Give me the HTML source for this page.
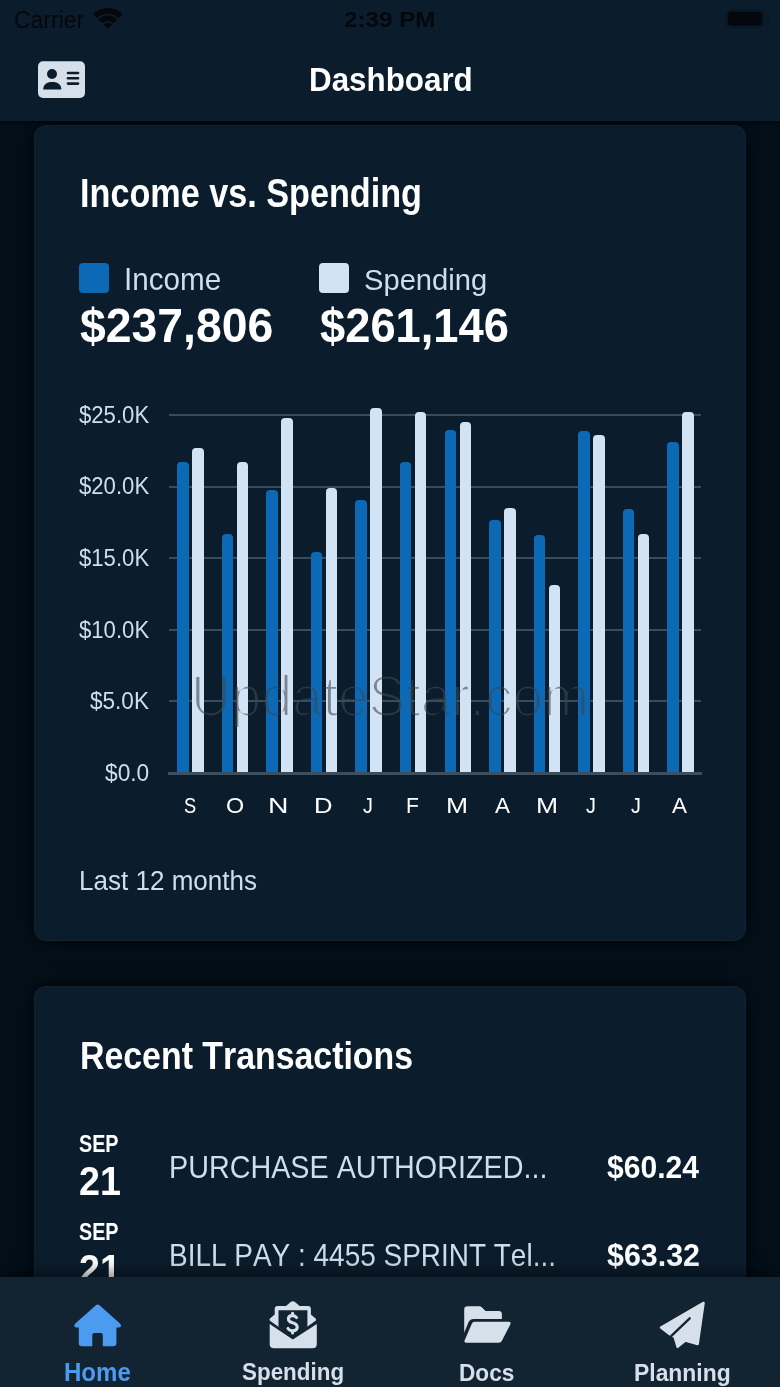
<!DOCTYPE html>
<html><head><meta charset="utf-8">
<style>
*{margin:0;padding:0;box-sizing:border-box}
html,body{width:780px;height:1387px;overflow:hidden;background:#03101a;font-family:"Liberation Sans",sans-serif;font-kerning:none}
.t{position:absolute;white-space:nowrap;line-height:1;transform-origin:0 0}
.abs{position:absolute}
#header{position:absolute;left:0;top:0;width:780px;height:121px;background:#0b1d2d;box-shadow:0 1px 4px rgba(0,0,0,.7)}
.card{position:absolute;left:34px;width:712px;background:#0b1d2d;border-radius:12px;box-shadow:0 0 20px rgba(0,0,0,.85);border:1px solid rgba(255,255,255,.025)}
.bar{position:absolute;width:11.5px;border-radius:4px 4px 0 0}
.grid{position:absolute;left:169px;width:532px;height:2px;background:#3a4b5a}
#tab{position:absolute;left:0;top:1277px;width:780px;height:110px;background:#122331;box-shadow:0 -3px 16px rgba(0,0,0,.6)}
</style></head><body>
<svg width="0" height="0" style="position:absolute"><filter id="thin" x="-5%" y="-20%" width="110%" height="140%"><feMorphology operator="erode" radius="0.7"/></filter></svg>
<div class="card" style="top:125px;height:816px"></div>
<div class="card" style="top:985.5px;height:420px"></div>
<div id="header"></div>
<div class="grid" style="top:413.8px"></div><div class="grid" style="top:485.5px"></div><div class="grid" style="top:557.1px"></div><div class="grid" style="top:628.8px"></div><div class="grid" style="top:700.4px"></div>
<div class="abs" style="left:168px;top:771.5px;width:534px;height:3.5px;background:#3d4e5d"></div>
<div class="bar" style="left:177.20px;top:461.9px;height:310.1px;background:#0b69b5"></div><div class="bar" style="left:192.20px;top:448.1px;height:323.9px;background:#d3e3f6"></div><div class="bar" style="left:221.75px;top:534.2px;height:237.8px;background:#0b69b5"></div><div class="bar" style="left:236.75px;top:461.9px;height:310.1px;background:#d3e3f6"></div><div class="bar" style="left:266.30px;top:490.0px;height:282.0px;background:#0b69b5"></div><div class="bar" style="left:281.30px;top:417.6px;height:354.4px;background:#d3e3f6"></div><div class="bar" style="left:310.85px;top:552.0px;height:220.0px;background:#0b69b5"></div><div class="bar" style="left:325.85px;top:488.2px;height:283.8px;background:#d3e3f6"></div><div class="bar" style="left:355.40px;top:499.5px;height:272.5px;background:#0b69b5"></div><div class="bar" style="left:370.40px;top:408.4px;height:363.6px;background:#d3e3f6"></div><div class="bar" style="left:399.95px;top:461.9px;height:310.1px;background:#0b69b5"></div><div class="bar" style="left:414.95px;top:412.0px;height:360.0px;background:#d3e3f6"></div><div class="bar" style="left:444.50px;top:429.6px;height:342.4px;background:#0b69b5"></div><div class="bar" style="left:459.50px;top:421.5px;height:350.5px;background:#d3e3f6"></div><div class="bar" style="left:489.05px;top:520.3px;height:251.7px;background:#0b69b5"></div><div class="bar" style="left:504.05px;top:507.6px;height:264.4px;background:#d3e3f6"></div><div class="bar" style="left:533.60px;top:535.0px;height:237.0px;background:#0b69b5"></div><div class="bar" style="left:548.60px;top:584.9px;height:187.1px;background:#d3e3f6"></div><div class="bar" style="left:578.15px;top:431.2px;height:340.8px;background:#0b69b5"></div><div class="bar" style="left:593.15px;top:435.0px;height:337.0px;background:#d3e3f6"></div><div class="bar" style="left:622.70px;top:508.8px;height:263.2px;background:#0b69b5"></div><div class="bar" style="left:637.70px;top:534.2px;height:237.8px;background:#d3e3f6"></div><div class="bar" style="left:667.25px;top:442.3px;height:329.7px;background:#0b69b5"></div><div class="bar" style="left:682.25px;top:411.8px;height:360.2px;background:#d3e3f6"></div>
<div class="abs" style="left:79.4px;top:263.1px;width:29.8px;height:30px;border-radius:4px;background:#0b69b5"></div>
<div class="abs" style="left:319px;top:263px;width:30px;height:30.3px;border-radius:4px;background:#d3e3f6"></div>
<div class="t" style="left:13.63px;top:8.20px;font-size:23.98px;font-weight:400;color:#04080c;transform:scaleX(0.9586);">Carrier</div><div class="t" style="left:344.26px;top:9.36px;font-size:22.49px;font-weight:700;color:#04080c;transform:scaleX(1.0771);">2:39 PM</div><div class="t" style="left:308.70px;top:63.06px;font-size:33.72px;font-weight:700;color:#ffffff;transform:scaleX(0.9298);">Dashboard</div><div class="t" style="left:79.51px;top:174.04px;font-size:40.12px;font-weight:700;color:#ffffff;transform:scaleX(0.8523);">Income vs. Spending</div><div class="t" style="left:124.17px;top:264.59px;font-size:30.96px;font-weight:400;color:#d0dded;transform:scaleX(0.9569);">Income</div><div class="t" style="left:364.08px;top:265.01px;font-size:30.23px;font-weight:400;color:#d0dded;transform:scaleX(0.9645);">Spending</div><div class="t" style="left:80.19px;top:302.48px;font-size:47.28px;font-weight:700;color:#ffffff;transform:scaleX(0.9802);">$237,806</div><div class="t" style="left:320.30px;top:301.82px;font-size:47.71px;font-weight:700;color:#ffffff;transform:scaleX(0.9495);">$261,146</div><div class="t" style="left:78.76px;top:403.65px;font-size:23.21px;font-weight:400;color:#d0dded;transform:scaleX(0.9541);">$25.0K</div><div class="t" style="left:78.76px;top:475.35px;font-size:23.21px;font-weight:400;color:#d0dded;transform:scaleX(0.9541);">$20.0K</div><div class="t" style="left:78.76px;top:547.05px;font-size:23.21px;font-weight:400;color:#d0dded;transform:scaleX(0.9541);">$15.0K</div><div class="t" style="left:78.76px;top:618.75px;font-size:23.21px;font-weight:400;color:#d0dded;transform:scaleX(0.9541);">$10.0K</div><div class="t" style="left:89.96px;top:690.45px;font-size:23.21px;font-weight:400;color:#d0dded;transform:scaleX(0.9727);">$5.0K</div><div class="t" style="left:105.36px;top:762.15px;font-size:23.21px;font-weight:400;color:#d0dded;transform:scaleX(0.9792);">$0.0</div><div class="t" style="left:184.17px;top:794.26px;font-size:22.97px;font-weight:400;color:#ffffff;transform:scaleX(0.7942);">S</div><div class="t" style="left:225.85px;top:794.26px;font-size:22.97px;font-weight:400;color:#ffffff;transform:scaleX(1.0143);">O</div><div class="t" style="left:268.28px;top:794.26px;font-size:22.97px;font-weight:400;color:#ffffff;transform:scaleX(1.2317);">N</div><div class="t" style="left:314.09px;top:794.26px;font-size:22.97px;font-weight:400;color:#ffffff;transform:scaleX(1.1175);">D</div><div class="t" style="left:363.29px;top:794.26px;font-size:22.97px;font-weight:400;color:#ffffff;transform:scaleX(0.8599);">J</div><div class="t" style="left:406.37px;top:794.26px;font-size:22.97px;font-weight:400;color:#ffffff;transform:scaleX(0.9176);">F</div><div class="t" style="left:446.28px;top:794.26px;font-size:22.97px;font-weight:400;color:#ffffff;transform:scaleX(1.1522);">M</div><div class="t" style="left:494.51px;top:794.26px;font-size:22.97px;font-weight:400;color:#ffffff;transform:scaleX(0.9785);">A</div><div class="t" style="left:535.78px;top:794.26px;font-size:22.97px;font-weight:400;color:#ffffff;transform:scaleX(1.1522);">M</div><div class="t" style="left:586.14px;top:794.26px;font-size:22.97px;font-weight:400;color:#ffffff;transform:scaleX(0.8599);">J</div><div class="t" style="left:630.74px;top:794.26px;font-size:22.97px;font-weight:400;color:#ffffff;transform:scaleX(0.8599);">J</div><div class="t" style="left:672.31px;top:794.26px;font-size:22.97px;font-weight:400;color:#ffffff;transform:scaleX(0.9785);">A</div><div class="t" style="left:79.36px;top:867.15px;font-size:27.47px;font-weight:400;color:#d0dded;transform:scaleX(0.9481);">Last 12 months</div><div class="t" style="left:80.03px;top:1036.16px;font-size:39.39px;font-weight:700;color:#ffffff;transform:scaleX(0.8599);">Recent Transactions</div><div class="t" style="left:79.23px;top:1132.30px;font-size:23.98px;font-weight:700;color:#ffffff;transform:scaleX(0.8240);">SEP</div><div class="t" style="left:79.49px;top:1161.62px;font-size:40.26px;font-weight:700;color:#ffffff;transform:scaleX(0.9370);">21</div><div class="t" style="left:79.23px;top:1220.30px;font-size:23.98px;font-weight:700;color:#ffffff;transform:scaleX(0.8240);">SEP</div><div class="t" style="left:79.49px;top:1249.62px;font-size:40.26px;font-weight:700;color:#ffffff;transform:scaleX(0.9370);">21</div><div class="t" style="left:168.74px;top:1151.80px;font-size:31.54px;font-weight:400;color:#d0dded;transform:scaleX(0.9113);">PURCHASE AUTHORIZED...</div><div class="t" style="left:168.81px;top:1239.80px;font-size:31.54px;font-weight:400;color:#d0dded;transform:scaleX(0.8867);">BILL PAY : 4455 SPRINT Tel...</div><div class="t" style="left:606.90px;top:1152.45px;font-size:30.66px;font-weight:700;color:#ffffff;transform:scaleX(0.9806);">$60.24</div><div class="t" style="left:606.90px;top:1240.45px;font-size:30.66px;font-weight:700;color:#ffffff;transform:scaleX(0.9919);">$63.32</div>
<div class="t" style="left:190.55px;top:668.35px;font-size:57.12px;font-weight:400;color:rgb(63,70,78);transform:scaleX(0.9645);opacity:.6;filter:url(#thin);">UpdateStar.com</div>
<svg class="abs" style="left:0;top:0" width="780" height="40" viewBox="0 0 780 40">
  <g fill="#04080c">
    <path stroke="#04080c" stroke-width="0.8" stroke-linejoin="round" d="M93.52 14.22 A20.2 20.2 0 0 1 122.08 14.22 L118.55 17.75 A15.2 15.2 0 0 0 97.05 17.75 Z"/>
    <path stroke="#04080c" stroke-width="0.8" stroke-linejoin="round" d="M98.82 19.52 A12.7 12.7 0 0 1 116.78 19.52 L113.39 22.91 A7.9 7.9 0 0 0 102.21 22.91 Z"/>
    <path stroke="#04080c" stroke-width="0.8" stroke-linejoin="round" d="M107.8 28.3 L104.05 24.75 A5.3 5.3 0 0 1 111.55 24.75 Z"/>
    <rect x="727.5" y="11.5" width="35" height="14.5" rx="4"/>
    <path fill-opacity="0.35" d="M766.5 15.5 a2.5 3.2 0 0 1 0 6.4 z"/>
    <rect x="725.8" y="9.8" width="38.4" height="17.9" rx="5.5" fill="none" stroke="rgba(0,0,0,.25)" stroke-width="1.2"/>
  </g>
</svg>
<svg class="abs" style="left:0;top:40px" width="120" height="80" viewBox="0 40 120 80">
  <rect x="38" y="61.3" width="47" height="36.7" rx="5" fill="#d5e0ea"/>
  <circle cx="52" cy="74" r="5" fill="#0b1d2d"/>
  <path d="M43.2 89.6 C43.2 84.5 46.5 82 52.2 82 C58 82 61.3 84.5 61.3 89.6 Z" fill="#0b1d2d"/>
  <g stroke="#0b1d2d" stroke-width="2.6" stroke-linecap="round">
    <line x1="68" y1="73" x2="78" y2="73"/>
    <line x1="68" y1="78.3" x2="78" y2="78.3"/>
    <line x1="68" y1="83.6" x2="78" y2="83.6"/>
  </g>
</svg>
<div id="tab"></div>
<svg class="abs" style="left:0;top:1277px" width="780" height="110" viewBox="0 1277 780 110">
  <path fill="#4b9bf1" d="M95.6 1305.6 Q97.7 1303.6 99.8 1305.6 L120 1323.5 Q122.5 1326.8 119 1327.5 L116.4 1327.5 L116.4 1343 Q116.4 1346.2 113.2 1346.2 L102.8 1346.2 L102.8 1335 Q102.8 1333 100.8 1333 L94.3 1333 Q92.3 1333 92.3 1335 L92.3 1346.2 L82 1346.2 Q78.8 1346.2 78.8 1343 L78.8 1327.5 L76.3 1327.5 Q72.8 1326.8 75.3 1323.5 Z"/>
  <g fill="#d5e0ea">
    <path d="M274.7 1309 Q274.7 1306 277.7 1306 L286 1306 L290.6 1302.1 Q292.8 1300.6 295 1302.1 L299.6 1306 L307.9 1306 Q310.9 1306 310.9 1309 L310.9 1314.5 L315.6 1318.6 Q316.8 1319.8 315.6 1320.8 L292.8 1337 L270 1320.8 Q268.8 1319.8 270 1318.6 L274.7 1314.5 Z"/>
    <path fill="#122331" d="M278.5 1310.2 L307.4 1310.2 L307.4 1327 L292.8 1338 L278.5 1327 Z"/>
    <path fill="#122331" d="M266 1319.2 L292.8 1337.6 L319.6 1319.2 L319.6 1325 L292.8 1345 L266 1325 Z"/>
    <path d="M269.7 1324 L292.8 1339.6 L316.8 1324 L316.8 1344 Q316.8 1348.3 312.5 1348.3 L274 1348.3 Q269.7 1348.3 269.7 1344 Z"/>
    <g fill="none" stroke="#d5e0ea" stroke-width="3.1" stroke-linecap="round">
      <path d="M296.6 1317.6 Q295.2 1315.6 292.4 1315.6 Q288.4 1315.6 288.4 1318.9 Q288.4 1321.6 292.6 1322.7 Q297.2 1323.9 297.2 1327.3 Q297.2 1330.7 292.6 1330.7 Q289.5 1330.7 288 1328.5"/>
      <line x1="292.6" y1="1313.2" x2="292.6" y2="1315"/>
      <line x1="292.6" y1="1331.3" x2="292.6" y2="1333"/>
    </g>
    <path d="M464.2 1309.5 Q464.2 1306.2 467.5 1306.2 L479.5 1306.2 Q480.8 1306.2 481.8 1307.2 L485.5 1311 L498.6 1311 Q501.9 1311 501.9 1314.3 L501.9 1319 L473 1319 Q470 1319 468.8 1321.5 L464.2 1332.8 Z"/>
    <path d="M474.5 1321.8 L508.6 1321.8 Q511.5 1321.8 510.3 1324.5 L501.8 1341 Q500.9 1342.7 499 1342.7 L466.5 1342.7 Q463.5 1342.7 464.8 1340 L471.8 1323.8 Q472.6 1321.8 474.5 1321.8 Z"/>
    <path stroke="#d5e0ea" stroke-width="2.4" stroke-linejoin="round" d="M703.6 1302.9 L697.7 1344 L685.3 1340.6 L677.6 1346.8 L674.6 1337 L669.4 1334 L661 1327.6 Z"/>
  </g>
  <line x1="689.7" y1="1318.3" x2="671.4" y2="1335.8" stroke="#122331" stroke-width="2.3" stroke-linecap="round"/>
</svg>
<div class="t" style="left:63.99px;top:1360.41px;font-size:25.15px;font-weight:700;color:#4b9bf1;transform:scaleX(0.9566);">Home</div><div class="t" style="left:242.05px;top:1361.49px;font-size:23.64px;font-weight:700;color:#d5e0ea;transform:scaleX(0.9486);">Spending</div><div class="t" style="left:459.29px;top:1361.64px;font-size:23.69px;font-weight:700;color:#d5e0ea;transform:scaleX(0.9553);">Docs</div><div class="t" style="left:634.47px;top:1361.57px;font-size:23.55px;font-weight:700;color:#d5e0ea;transform:scaleX(0.9723);">Planning</div>
</body></html>
